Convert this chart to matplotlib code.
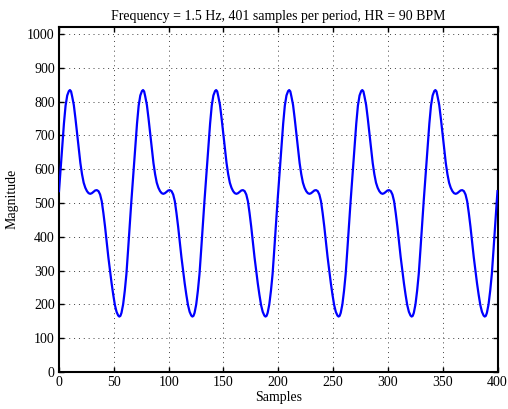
import numpy as np
import matplotlib
matplotlib.use("Agg")
import matplotlib.pyplot as plt

# One period of the waveform (phase in samples, magnitude)
period_phase = [0, 1.5, 3, 4.5, 6, 7.5, 9, 10, 11, 12, 13.5, 15, 16.5, 18, 19.5,
                21, 22.5, 24, 25.5, 27, 28.5, 30, 31.5, 33, 34.5, 36, 37.5, 39,
                40.5, 42, 43.5, 45, 46.5, 48, 49.5, 51, 52.5, 54, 55, 56, 57,
                58.5, 60, 61.5, 63, 64.5, 66]
period_value = [535, 600, 668, 735, 788, 818, 831, 834, 830, 815, 790, 750, 705,
                660, 618, 585, 560, 545, 535, 529, 527, 529, 533, 537, 538, 535,
                525, 505, 470, 430, 385, 340, 300, 262, 228, 198, 178, 167, 164,
                166, 175, 200, 240, 290, 360, 435, 505]
period_length = 400 / 6
n_periods = 6
end_sample = 400

title = "Frequency = 1.5 Hz, 401 samples per period, HR = 90 BPM"
x_label = "Samples"
y_label = "Magnitude"
x_ticks = list(range(0, 401, 50))
y_ticks = list(range(0, 1001, 100))

xs = []
ys = []
for k in range(n_periods):
    for p, v in zip(period_phase, period_value):
        xs.append(k * period_length + p)
        ys.append(v)
xs.append(end_sample)
ys.append(period_value[0])

plt.rcParams['font.family'] = ['Liberation Serif', 'DejaVu Serif']
fig = plt.figure(figsize=(5.08, 4.09), dpi=100)
ax = fig.add_axes([59 / 508, 1 - 372 / 409, (497.5 - 59) / 508, (372 - 26.5) / 409])
ax.plot(xs, ys, color=(0, 0, 1), linewidth=1.6, zorder=3)
ax.set_xlim(0, 400)
ax.set_ylim(0, 1022)
ax.set_xticks(x_ticks)
ax.set_yticks(y_ticks)
ax.tick_params(direction='in', top=True, right=True, length=3.5, width=1.0,
               labelsize=10, colors='black', pad=3)
ax.grid(True, linestyle=(0, (1, 4)), color='0.25', linewidth=0.7)
for s in ax.spines.values():
    s.set_linewidth(1.5)
ax.set_title(title, fontsize=10, pad=5)
ax.set_xlabel(x_label, fontsize=10, labelpad=1)
ax.set_ylabel(y_label, fontsize=10, labelpad=6)
fig.savefig("out.png", dpi=100)
